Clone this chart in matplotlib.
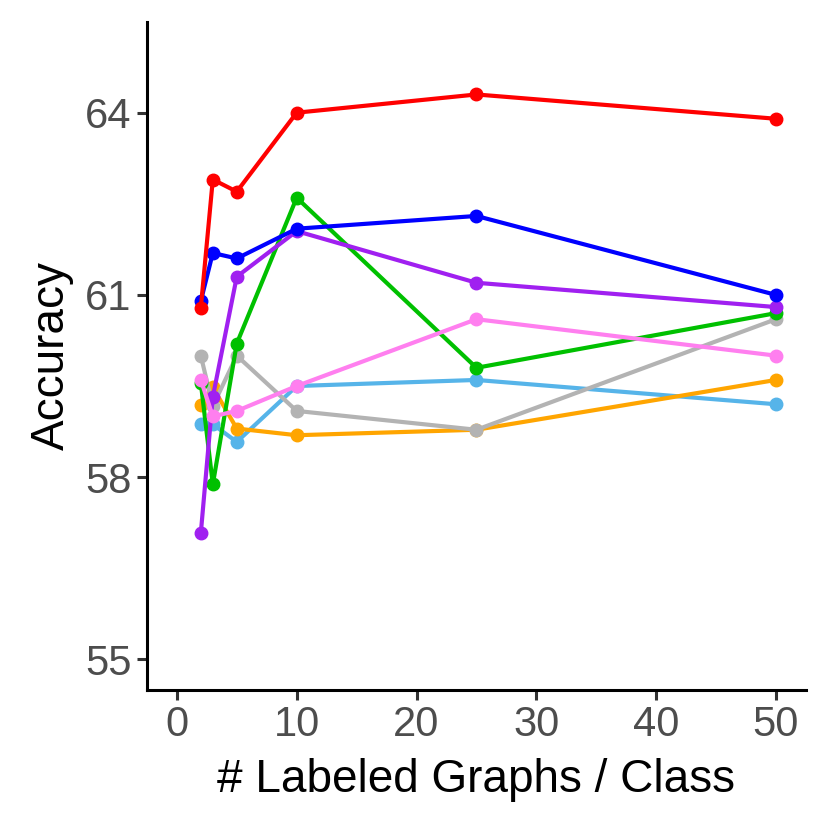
import matplotlib.pyplot as plt

plt.rcParams['font.family'] = ['Liberation Sans', 'DejaVu Sans']

labeled = [2, 3, 5, 10, 25, 50]

# accuracy per method (colour)
acc_lightblue = [58.88, 58.87, 58.58, 59.5, 59.6, 59.2]
acc_orange = [59.18, 59.48, 58.8, 58.69, 58.78, 59.6]
acc_gray = [60.0, 59.17, 60.0, 59.09, 58.78, 60.6]
acc_green = [59.55, 57.88, 60.2, 62.6, 59.8, 60.7]
acc_purple = [57.08, 59.32, 61.3, 62.05, 61.2, 60.8]
acc_pink = [59.6, 59.0, 59.09, 59.5, 60.6, 60.0]
acc_blue = [60.9, 61.69, 61.6, 62.09, 62.3, 61.0]
acc_red = [60.79, 62.9, 62.7, 64.0, 64.3, 63.9]

series = [
    (acc_lightblue, '#56B4E9'),
    (acc_orange, '#FFA500'),
    (acc_gray, '#B3B3B3'),
    (acc_green, '#00C000'),
    (acc_purple, '#A020F0'),
    (acc_pink, '#FF7FEF'),
    (acc_blue, '#0000FF'),
    (acc_red, '#FF0000'),
]

fig = plt.figure(figsize=(8.3, 8.3), dpi=100)
ax = fig.add_axes([0.177, 0.169, 0.794, 0.805])

for vals, col in series:
    ax.plot(labeled, vals, color=col, linewidth=3.0, marker='o', markersize=9)

ax.set_xlim(-2.5, 52.5)
ax.set_ylim(54.5, 65.5)
ax.set_xticks([0, 10, 20, 30, 40, 50])
ax.set_yticks([55, 58, 61, 64])

for side in ['top', 'right']:
    ax.spines[side].set_visible(False)
for side in ['left', 'bottom']:
    ax.spines[side].set_linewidth(2.2)
    ax.spines[side].set_color('black')

ax.tick_params(axis='both', length=7, width=2.2, color='#333333',
               labelsize=30, labelcolor='#4D4D4D', pad=4)

ax.set_xlabel('# Labeled Graphs / Class', fontsize=33, labelpad=9)
ax.set_ylabel('Accuracy', fontsize=33, labelpad=8)

fig.savefig('out.png', dpi=100)
